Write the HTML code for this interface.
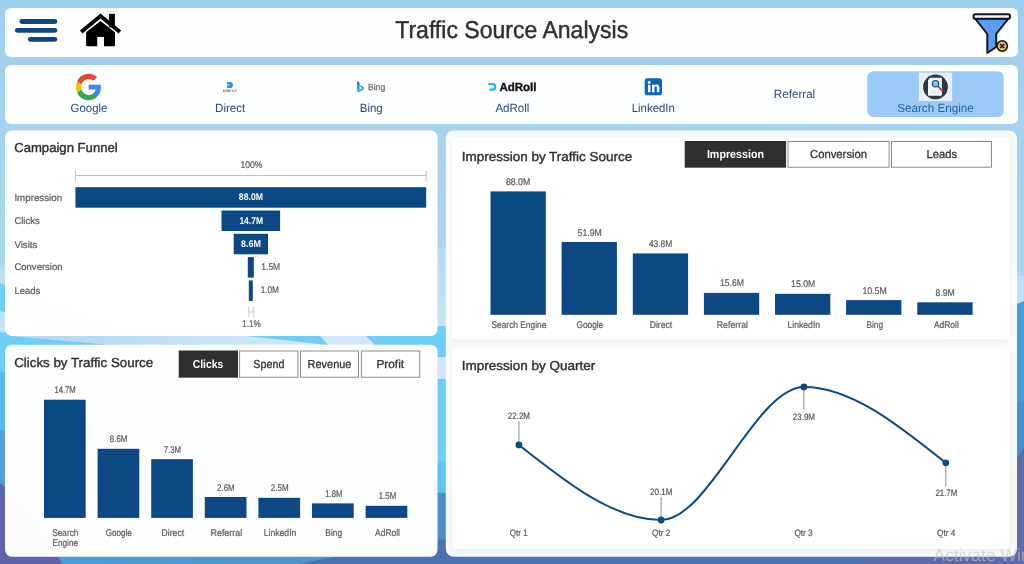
<!DOCTYPE html>
<html><head><meta charset="utf-8"><title>Traffic Source Analysis</title>
<style>
html,body{margin:0;padding:0;width:1024px;height:564px;overflow:hidden;background:#a3d2ee;}
svg{display:block;font-family:"Liberation Sans",sans-serif;text-rendering:geometricPrecision;}
</style></head><body>
<svg width="1024" height="564" viewBox="0 0 1024 564" style="will-change:transform">
<defs>
<linearGradient id="bg" x1="0" y1="0" x2="0" y2="1">
<stop offset="0" stop-color="#9ccfee"/><stop offset="0.2" stop-color="#a4d2ed"/><stop offset="0.45" stop-color="#aad5ee"/><stop offset="1" stop-color="#b5dcf2"/>
</linearGradient>
<linearGradient id="lt" x1="0" y1="0" x2="0" y2="1"><stop offset="0" stop-color="#b4dbf2"/><stop offset="0.25" stop-color="#c6e3f5"/><stop offset="1" stop-color="#c6e3f5"/></linearGradient>
<linearGradient id="mid" x1="0" y1="0" x2="1" y2="0"><stop offset="0" stop-color="#58b8ec"/><stop offset="0.45" stop-color="#5fc4f2"/><stop offset="1" stop-color="#4a9edb"/></linearGradient>
<linearGradient id="blu" x1="0" y1="0" x2="1" y2="0"><stop offset="0" stop-color="#4d9fd8"/><stop offset="0.45" stop-color="#4d8ec8"/><stop offset="1" stop-color="#4a8fd0"/></linearGradient>
<linearGradient id="gapg" x1="0" y1="0" x2="1" y2="0"><stop offset="0.2" stop-color="#b9dbf1"/><stop offset="0.7" stop-color="#d3e8f6"/><stop offset="1" stop-color="#d3e8f6"/></linearGradient>
<clipPath id="gapL"><rect x="0" y="335" width="446" height="11"/></clipPath>
<clipPath id="gapC"><rect x="436" y="340" width="11" height="50"/></clipPath>
<linearGradient id="bing" x1="0" y1="0" x2="0.4" y2="1"><stop offset="0" stop-color="#2468b4"/><stop offset="1" stop-color="#36bfe0"/></linearGradient>
<filter id="sh" x="-5%" y="-5%" width="110%" height="115%"><feGaussianBlur stdDeviation="2.2"/></filter>
</defs>
<rect width="1024" height="564" fill="url(#bg)"/>

<path d="M0,268 C150,262 300,252 446,248 C650,244 850,262 1024,276 L1024,564 L0,564Z" fill="url(#lt)"/>
<path d="M0,332 C40,336 70,342 110,346 C200,362 300,356 366,336 C400,328 430,326 446,326 C600,318 800,310 1024,303 L1024,564 L0,564Z" fill="#6dcff6"/>
<path d="M0,371 C150,420 300,452 446,462 C650,470 850,380 1024,301 L1024,564 L0,564Z" fill="url(#mid)"/>
<path d="M0,430 C150,470 300,490 446,493 C650,495 900,450 1024,400 L1024,564 L0,564Z" fill="url(#blu)"/>
<path d="M0,483 C25,500 50,540 62,564 L0,564Z" fill="#5e64a8"/>
<path d="M300,564 C350,553 400,545 446,539 C650,520 850,540 1024,520 L1024,564Z" fill="#4a72b0"/>
<path d="M860,564 C930,545 990,500 1024,448 L1024,564Z" fill="#5f6ba8"/>
<path d="M0,283 L0,311 C50,326 90,336 130,346 L210,352 C130,338 60,308 0,283Z" fill="#6dcff6"/>
<g clip-path="url(#gapL)"><rect x="0" y="330" width="450" height="20" fill="url(#gapg)"/><polygon points="0,330 3,330 10,336 110,345 125,347 0,347" fill="#6dcff6"/><polygon points="247,336 238,335 319.5,335 328,345" fill="#6dcff6"/><polygon points="365,335 450,335 450,347 377,347" fill="#6dcff6"/></g>
<g clip-path="url(#gapC)"><rect x="436" y="357" width="12" height="22" fill="#d0e6f5"/></g>
<rect x="5" y="8" width="1013" height="49" rx="6" fill="#fff" fill-opacity="0.97"/>
<rect x="5" y="65" width="1013" height="59" rx="6" fill="#fff" fill-opacity="0.97"/>
<rect x="5" y="130.5" width="432.5" height="205.5" rx="7" fill="#fff" fill-opacity="0.985"/>
<rect x="5" y="344.7" width="432.5" height="212" rx="7" fill="#fff" fill-opacity="0.985"/>
<rect x="445.8" y="130.5" width="571.2" height="426.3" rx="8" fill="#fbfbfa" fill-opacity="0.98"/>
<rect x="452" y="138.5" width="557.8" height="202.5" rx="5" fill="#000" fill-opacity="0.05" filter="url(#sh)"/>
<rect x="452" y="137" width="557.8" height="202.5" rx="4" fill="#fff"/>
<rect x="452" y="350.1" width="557.8" height="200.4" rx="5" fill="#000" fill-opacity="0.05" filter="url(#sh)"/>
<rect x="452" y="348.6" width="557.8" height="200.4" rx="4" fill="#fff"/>
<line x1="21.8" y1="21.5" x2="54.9" y2="21.5" stroke="#10467f" stroke-width="4.8" stroke-linecap="round"/>
<line x1="17.3" y1="30.35" x2="54.9" y2="30.35" stroke="#10467f" stroke-width="4.8" stroke-linecap="round"/>
<line x1="30.3" y1="39.35" x2="54.9" y2="39.35" stroke="#10467f" stroke-width="4.8" stroke-linecap="round"/>
<g fill="#000"><polyline points="81.2,31.9 100.5,16.1 119.9,31.9" fill="none" stroke="#000" stroke-width="3.9" stroke-linecap="butt" stroke-linejoin="miter"/><rect x="109.1" y="13.9" width="5.8" height="13.5"/><path d="M86.1,32.3 L100.5,21 L115,32.3 L115,45.3 a1,1 0 0 1 -1,1 L104,46.3 L104,36.9 L97.2,36.9 L97.2,46.3 L87.1,46.3 a1,1 0 0 1 -1,-1Z"/></g>
<text x="395.2" y="37.5" font-size="24.4" textLength="233.0" lengthAdjust="spacingAndGlyphs" fill="#2f2f2f" font-weight="normal" stroke="#2f2f2f" stroke-width="0.4">Traffic Source Analysis</text>
<g stroke="#15151f" stroke-width="2" stroke-linejoin="round"><path d="M975,18.5 L987.3,34 L987.3,53 L996.2,47 L996.2,34 L1008.5,18.5Z" fill="#5b9df0"/><rect x="973.6" y="14.2" width="36.3" height="4.6" rx="1.5" fill="#f4f8ff"/><circle cx="1002.2" cy="46" r="5.2" fill="#f0b95c" stroke-width="1.6"/><path d="M1000.2,44 L1004.2,48 M1004.2,44 L1000.2,48" stroke-width="1.5" fill="none"/></g>
<rect x="867.3" y="71.2" width="136.4" height="45.7" rx="6" fill="#9ccaf8"/>
<g transform="translate(75.35,73.1) scale(0.554,0.578)">
<path fill="#4285F4" d="M46.1 24.5c0-1.6-.1-3.100-.4-4.500H24v8.500h12.400c-.5 2.900-2.100 5.300-4.500 6.900v5.700h7.300c4.300-3.900 6.900-9.800 6.900-16.600z"/>
<path fill="#34A853" d="M24 47c6.200 0 11.400-2 15.200-5.500l-7.300-5.700c-2.100 1.400-4.700 2.200-7.900 2.200-6 0-11.100-4.100-12.900-9.500H3.500v5.900C7.300 41.900 15.100 47 24 47z"/>
<path fill="#FBBC05" d="M11.100 28.500c-.5-1.400-.7-2.900-.7-4.500s.3-3.100.7-4.500v-5.900H3.500C1.900 16.700 1 20.200 1 24s.9 7.300 2.500 10.400l7.600-5.900z"/>
<path fill="#EA4335" d="M24 10c3.400 0 6.400 1.200 8.800 3.400l6.500-6.500C35.400 3.200 30.200 1 24 1 15.100 1 7.300 6.100 3.500 13.600l7.600 5.900C12.900 14.100 18 10 24 10z"/>
</g>
<text x="70.5" y="112.3" font-size="11.9" textLength="37.0" lengthAdjust="spacingAndGlyphs" fill="#274b79" font-weight="normal" >Google</text>
<path d="M227.1,81.9 h2.7 a3.1,3.1 0 0 1 0,6.2 h-2.7z" fill="#2f8ccc"/><path d="M227.1,84 l3.2,1 -3.2,1z M228.3,83.6 a1.5,1.4 0 1 1 0,2.8 l1.6,-1.4z" fill="#8fe9ff"/>
<text x="222.7" y="91.7" font-size="3.4" textLength="14.4" lengthAdjust="spacingAndGlyphs" fill="#555" font-weight="bold" >DIRECT</text>
<text x="215.0" y="112.3" font-size="11.9" textLength="30.3" lengthAdjust="spacingAndGlyphs" fill="#274b79" font-weight="normal" >Direct</text>
<path d="M357.1,81.5 q1.6,0.2 2.5,1.1 v6.8 l2.6,-1.5 -1.6,-0.8 -0.8,-1.9 3.6,1.6 q1.6,1 0.2,2.6 l-4.2,2.5 q-1.2,0.6 -2.3,-0.7z" fill="url(#bing)"/>
<text x="367.9" y="90.0" font-size="8.8" textLength="17.3" lengthAdjust="spacingAndGlyphs" fill="#707070" font-weight="normal" stroke="#707070" stroke-width="0.3">Bing</text>
<text x="359.8" y="112.3" font-size="11.9" textLength="22.8" lengthAdjust="spacingAndGlyphs" fill="#274b79" font-weight="normal" >Bing</text>
<path d="M488.4,84 H492.5 A2.85,2.85 0 0 1 492.5,89.7 H489.4" fill="none" stroke="#1cb8ea" stroke-width="2.2"/>
<text x="499.4" y="90.7" font-size="11.6" textLength="37.1" lengthAdjust="spacingAndGlyphs" fill="#111" font-weight="bold" stroke="#111" stroke-width="0.35">AdRoll</text>
<text x="495.4" y="112.3" font-size="11.9" textLength="34.0" lengthAdjust="spacingAndGlyphs" fill="#274b79" font-weight="normal" >AdRoll</text>
<rect x="644.7" y="78.3" width="17.3" height="17" rx="2.6" fill="#0a66c2"/>
<g fill="#fff"><rect x="648" y="84.8" width="2.4" height="7.4"/><circle cx="649.2" cy="82.5" r="1.45"/><path d="M652,84.8 h2.3 v1 c0.5,-0.8 1.4,-1.2 2.4,-1.2 c2,0 2.6,1.3 2.6,3.1 v4.5 h-2.4 v-4 c0,-0.9 -0.2,-1.6 -1.1,-1.6 c-1,0 -1.4,0.7 -1.4,1.6 v4 h-2.4z"/></g>
<text x="631.7" y="112.3" font-size="11.9" textLength="43.2" lengthAdjust="spacingAndGlyphs" fill="#274b79" font-weight="normal" >LinkedIn</text>
<text x="773.8" y="98.3" font-size="11.9" textLength="41.4" lengthAdjust="spacingAndGlyphs" fill="#274b79" font-weight="normal" >Referral</text>
<rect x="918.9" y="72.7" width="33.2" height="28.3" fill="#e9f0f8"/>
<circle cx="935.5" cy="86.9" r="12.4" fill="#2a3848"/>
<path d="M930.2,77.8 h10.7 a1,1 0 0 1 1,1 v16 a1,1 0 0 1 -1,1 h-11.9 a1,1 0 0 1 -1,-1 v-14.8z" fill="#f3f6fa"/>
<path d="M930.5,90.2 h6 M930.5,92.4 h8" stroke="#d5dbe3" stroke-width="0.8"/>
<circle cx="935.5" cy="83.7" r="3.2" fill="#6ec8f5" stroke="#2b4d66" stroke-width="1.2"/>
<line x1="937.9" y1="86.2" x2="939.6" y2="88" stroke="#2b4d66" stroke-width="1.3"/>
<line x1="939.8" y1="88.2" x2="942.2" y2="90.6" stroke="#e0453e" stroke-width="2" stroke-linecap="round"/>
<text x="897.2" y="112.3" font-size="11.9" textLength="76.6" lengthAdjust="spacingAndGlyphs" fill="#2560a2" font-weight="normal" >Search Engine</text>
<text x="14.2" y="152.1" font-size="13" textLength="103.5" lengthAdjust="spacingAndGlyphs" fill="#2f2f2f" font-weight="normal" stroke="#2f2f2f" stroke-width="0.4">Campaign Funnel</text>
<path d="M75.4,170.4 V181 M75.4,175.5 H426.2 M426.2,170.4 V181" stroke="#c0c0c0" stroke-width="1" fill="none"/>
<text x="240.4" y="168.3" font-size="9.7" textLength="22.0" lengthAdjust="spacingAndGlyphs" fill="#5c5c5c" font-weight="normal" stroke="#5c5c5c" stroke-width="0.22">100%</text>
<rect x="75.4" y="187.2" width="350.8" height="20.5" fill="#0c4884"/>
<text x="14.4" y="201.1" font-size="9.7" textLength="47.7" lengthAdjust="spacingAndGlyphs" fill="#5c5c5c" font-weight="normal" stroke="#5c5c5c" stroke-width="0.22">Impression</text>
<rect x="221.5" y="210.5" width="58.6" height="20.5" fill="#0c4884"/>
<text x="14.4" y="224.1" font-size="9.7" textLength="25.3" lengthAdjust="spacingAndGlyphs" fill="#5c5c5c" font-weight="normal" stroke="#5c5c5c" stroke-width="0.22">Clicks</text>
<rect x="233.7" y="233.8" width="34.3" height="20.5" fill="#0c4884"/>
<text x="14.4" y="247.6" font-size="9.7" textLength="23.0" lengthAdjust="spacingAndGlyphs" fill="#5c5c5c" font-weight="normal" stroke="#5c5c5c" stroke-width="0.22">Visits</text>
<rect x="247.8" y="257.1" width="6.0" height="20.5" fill="#0c4884"/>
<text x="14.4" y="270.3" font-size="9.7" textLength="48.2" lengthAdjust="spacingAndGlyphs" fill="#5c5c5c" font-weight="normal" stroke="#5c5c5c" stroke-width="0.22">Conversion</text>
<rect x="248.8" y="280.4" width="4.0" height="20.5" fill="#0c4884"/>
<text x="14.4" y="293.8" font-size="9.7" textLength="25.8" lengthAdjust="spacingAndGlyphs" fill="#5c5c5c" font-weight="normal" stroke="#5c5c5c" stroke-width="0.22">Leads</text>
<text x="238.8" y="199.9" font-size="9.7" textLength="24.2" lengthAdjust="spacingAndGlyphs" fill="#fff" font-weight="bold" >88.0M</text>
<text x="239.4" y="223.5" font-size="9.7" textLength="23.6" lengthAdjust="spacingAndGlyphs" fill="#fff" font-weight="bold" >14.7M</text>
<text x="241.1" y="246.8" font-size="9.7" textLength="19.9" lengthAdjust="spacingAndGlyphs" fill="#fff" font-weight="bold" >8.6M</text>
<text x="261.3" y="269.8" font-size="9.7" textLength="18.9" lengthAdjust="spacingAndGlyphs" fill="#5c5c5c" font-weight="normal" stroke="#5c5c5c" stroke-width="0.22">1.5M</text>
<text x="260.7" y="293.0" font-size="9.7" textLength="18.2" lengthAdjust="spacingAndGlyphs" fill="#5c5c5c" font-weight="normal" stroke="#5c5c5c" stroke-width="0.22">1.0M</text>
<path d="M248.9,306.7 V317.5 M248.9,312 H253.3 M253.3,306.7 V317.5" stroke="#c8c8c8" stroke-width="1" fill="none"/>
<text x="242.1" y="327.0" font-size="9.7" textLength="18.6" lengthAdjust="spacingAndGlyphs" fill="#5c5c5c" font-weight="normal" stroke="#5c5c5c" stroke-width="0.22">1.1%</text>
<text x="14.2" y="366.6" font-size="13" textLength="139.0" lengthAdjust="spacingAndGlyphs" fill="#2f2f2f" font-weight="normal" stroke="#2f2f2f" stroke-width="0.4">Clicks by Traffic Source</text>
<rect x="178.7" y="350.5" width="59.3" height="27.2" fill="#2f2f2f"/>
<text x="192.7" y="367.9" font-size="11.6" textLength="30.6" lengthAdjust="spacingAndGlyphs" fill="#fff" font-weight="bold" >Clicks</text>
<rect x="239.6" y="351" width="58.3" height="26.2" fill="#fff" stroke="#8a8a8a" stroke-width="1"/>
<text x="253.3" y="367.9" font-size="11.6" textLength="31.1" lengthAdjust="spacingAndGlyphs" fill="#333" font-weight="normal" stroke="#333" stroke-width="0.3">Spend</text>
<rect x="300.5" y="351" width="58.0" height="26.2" fill="#fff" stroke="#8a8a8a" stroke-width="1"/>
<text x="307.6" y="367.9" font-size="11.6" textLength="43.8" lengthAdjust="spacingAndGlyphs" fill="#333" font-weight="normal" stroke="#333" stroke-width="0.3">Revenue</text>
<rect x="361.4" y="351" width="58.3" height="26.2" fill="#fff" stroke="#8a8a8a" stroke-width="1"/>
<text x="376.4" y="367.9" font-size="11.6" textLength="27.7" lengthAdjust="spacingAndGlyphs" fill="#333" font-weight="normal" stroke="#333" stroke-width="0.3">Profit</text>
<rect x="44.0" y="399.7" width="41.7" height="118.2" fill="#0c4884"/>
<text x="54.4" y="393.2" font-size="9.7" textLength="21.4" lengthAdjust="spacingAndGlyphs" fill="#5c5c5c" font-weight="normal" stroke="#5c5c5c" stroke-width="0.22">14.7M</text>
<rect x="97.6" y="448.8" width="41.7" height="69.1" fill="#0c4884"/>
<text x="109.8" y="442.3" font-size="9.7" textLength="17.6" lengthAdjust="spacingAndGlyphs" fill="#5c5c5c" font-weight="normal" stroke="#5c5c5c" stroke-width="0.22">8.6M</text>
<text x="105.7" y="535.6" font-size="9.7" textLength="26.2" lengthAdjust="spacingAndGlyphs" fill="#5c5c5c" font-weight="normal" stroke="#5c5c5c" stroke-width="0.22">Google</text>
<rect x="151.2" y="459.2" width="41.7" height="58.7" fill="#0c4884"/>
<text x="163.7" y="452.7" font-size="9.7" textLength="17.4" lengthAdjust="spacingAndGlyphs" fill="#5c5c5c" font-weight="normal" stroke="#5c5c5c" stroke-width="0.22">7.3M</text>
<text x="161.6" y="535.6" font-size="9.7" textLength="22.5" lengthAdjust="spacingAndGlyphs" fill="#5c5c5c" font-weight="normal" stroke="#5c5c5c" stroke-width="0.22">Direct</text>
<rect x="204.8" y="497.0" width="41.7" height="20.9" fill="#0c4884"/>
<text x="217.1" y="490.5" font-size="9.7" textLength="17.6" lengthAdjust="spacingAndGlyphs" fill="#5c5c5c" font-weight="normal" stroke="#5c5c5c" stroke-width="0.22">2.6M</text>
<text x="210.5" y="535.6" font-size="9.7" textLength="31.7" lengthAdjust="spacingAndGlyphs" fill="#5c5c5c" font-weight="normal" stroke="#5c5c5c" stroke-width="0.22">Referral</text>
<rect x="258.4" y="497.8" width="41.7" height="20.1" fill="#0c4884"/>
<text x="270.8" y="491.3" font-size="9.7" textLength="17.8" lengthAdjust="spacingAndGlyphs" fill="#5c5c5c" font-weight="normal" stroke="#5c5c5c" stroke-width="0.22">2.5M</text>
<text x="263.7" y="535.6" font-size="9.7" textLength="32.7" lengthAdjust="spacingAndGlyphs" fill="#5c5c5c" font-weight="normal" stroke="#5c5c5c" stroke-width="0.22">LinkedIn</text>
<rect x="312.0" y="503.4" width="41.7" height="14.5" fill="#0c4884"/>
<text x="325.3" y="496.9" font-size="9.7" textLength="17.0" lengthAdjust="spacingAndGlyphs" fill="#5c5c5c" font-weight="normal" stroke="#5c5c5c" stroke-width="0.22">1.8M</text>
<text x="325.3" y="535.6" font-size="9.7" textLength="17.0" lengthAdjust="spacingAndGlyphs" fill="#5c5c5c" font-weight="normal" stroke="#5c5c5c" stroke-width="0.22">Bing</text>
<rect x="365.6" y="505.8" width="41.7" height="12.1" fill="#0c4884"/>
<text x="378.7" y="499.3" font-size="9.7" textLength="17.6" lengthAdjust="spacingAndGlyphs" fill="#5c5c5c" font-weight="normal" stroke="#5c5c5c" stroke-width="0.22">1.5M</text>
<text x="375.1" y="535.6" font-size="9.7" textLength="24.9" lengthAdjust="spacingAndGlyphs" fill="#5c5c5c" font-weight="normal" stroke="#5c5c5c" stroke-width="0.22">AdRoll</text>
<text x="52.2" y="535.6" font-size="9.7" textLength="26.2" lengthAdjust="spacingAndGlyphs" fill="#5c5c5c" font-weight="normal" stroke="#5c5c5c" stroke-width="0.22">Search</text>
<text x="52.6" y="545.8" font-size="9.7" textLength="25.4" lengthAdjust="spacingAndGlyphs" fill="#5c5c5c" font-weight="normal" stroke="#5c5c5c" stroke-width="0.22">Engine</text>
<text x="461.8" y="161.0" font-size="13" textLength="170.4" lengthAdjust="spacingAndGlyphs" fill="#2f2f2f" font-weight="normal" stroke="#2f2f2f" stroke-width="0.4">Impression by Traffic Source</text>
<rect x="684.7" y="141" width="101.4" height="26.7" fill="#2f2f2f"/>
<text x="706.9" y="158.2" font-size="11.6" textLength="57.1" lengthAdjust="spacingAndGlyphs" fill="#fff" font-weight="bold" >Impression</text>
<rect x="788.0" y="141.5" width="101.1" height="25.7" fill="#fff" stroke="#8a8a8a" stroke-width="1"/>
<text x="810.0" y="158.2" font-size="11.6" textLength="57.1" lengthAdjust="spacingAndGlyphs" fill="#333" font-weight="normal" stroke="#333" stroke-width="0.3">Conversion</text>
<rect x="891.5" y="141.5" width="100.0" height="25.7" fill="#fff" stroke="#8a8a8a" stroke-width="1"/>
<text x="926.6" y="158.2" font-size="11.6" textLength="30.5" lengthAdjust="spacingAndGlyphs" fill="#333" font-weight="normal" stroke="#333" stroke-width="0.3">Leads</text>
<rect x="490.5" y="191.4" width="55.3" height="123.4" fill="#0c4884"/>
<text x="505.9" y="184.9" font-size="9.7" textLength="24.4" lengthAdjust="spacingAndGlyphs" fill="#5c5c5c" font-weight="normal" stroke="#5c5c5c" stroke-width="0.22">88.0M</text>
<text x="491.5" y="327.5" font-size="9.7" textLength="54.8" lengthAdjust="spacingAndGlyphs" fill="#5c5c5c" font-weight="normal" stroke="#5c5c5c" stroke-width="0.22">Search Engine</text>
<rect x="561.6" y="242.0" width="55.3" height="72.8" fill="#0c4884"/>
<text x="577.6" y="235.5" font-size="9.7" textLength="24.3" lengthAdjust="spacingAndGlyphs" fill="#5c5c5c" font-weight="normal" stroke="#5c5c5c" stroke-width="0.22">51.9M</text>
<text x="576.5" y="327.5" font-size="9.7" textLength="26.7" lengthAdjust="spacingAndGlyphs" fill="#5c5c5c" font-weight="normal" stroke="#5c5c5c" stroke-width="0.22">Google</text>
<rect x="632.8" y="253.4" width="55.3" height="61.4" fill="#0c4884"/>
<text x="648.9" y="246.9" font-size="9.7" textLength="23.4" lengthAdjust="spacingAndGlyphs" fill="#5c5c5c" font-weight="normal" stroke="#5c5c5c" stroke-width="0.22">43.8M</text>
<text x="649.7" y="327.5" font-size="9.7" textLength="22.6" lengthAdjust="spacingAndGlyphs" fill="#5c5c5c" font-weight="normal" stroke="#5c5c5c" stroke-width="0.22">Direct</text>
<rect x="703.9" y="292.9" width="55.3" height="21.9" fill="#0c4884"/>
<text x="720.0" y="286.4" font-size="9.7" textLength="24.1" lengthAdjust="spacingAndGlyphs" fill="#5c5c5c" font-weight="normal" stroke="#5c5c5c" stroke-width="0.22">15.6M</text>
<text x="716.7" y="327.5" font-size="9.7" textLength="31.3" lengthAdjust="spacingAndGlyphs" fill="#5c5c5c" font-weight="normal" stroke="#5c5c5c" stroke-width="0.22">Referral</text>
<rect x="775.0" y="293.8" width="55.3" height="21.0" fill="#0c4884"/>
<text x="791.1" y="287.3" font-size="9.7" textLength="24.1" lengthAdjust="spacingAndGlyphs" fill="#5c5c5c" font-weight="normal" stroke="#5c5c5c" stroke-width="0.22">15.0M</text>
<text x="787.5" y="327.5" font-size="9.7" textLength="32.6" lengthAdjust="spacingAndGlyphs" fill="#5c5c5c" font-weight="normal" stroke="#5c5c5c" stroke-width="0.22">LinkedIn</text>
<rect x="846.1" y="300.1" width="55.3" height="14.7" fill="#0c4884"/>
<text x="862.5" y="293.6" font-size="9.7" textLength="24.2" lengthAdjust="spacingAndGlyphs" fill="#5c5c5c" font-weight="normal" stroke="#5c5c5c" stroke-width="0.22">10.5M</text>
<text x="866.5" y="327.5" font-size="9.7" textLength="16.6" lengthAdjust="spacingAndGlyphs" fill="#5c5c5c" font-weight="normal" stroke="#5c5c5c" stroke-width="0.22">Bing</text>
<rect x="917.3" y="302.3" width="55.3" height="12.5" fill="#0c4884"/>
<text x="935.6" y="295.8" font-size="9.7" textLength="19.2" lengthAdjust="spacingAndGlyphs" fill="#5c5c5c" font-weight="normal" stroke="#5c5c5c" stroke-width="0.22">8.9M</text>
<text x="934.0" y="327.5" font-size="9.7" textLength="24.8" lengthAdjust="spacingAndGlyphs" fill="#5c5c5c" font-weight="normal" stroke="#5c5c5c" stroke-width="0.22">AdRoll</text>
<text x="461.7" y="370.2" font-size="13" textLength="133.5" lengthAdjust="spacingAndGlyphs" fill="#2f2f2f" font-weight="normal" stroke="#2f2f2f" stroke-width="0.4">Impression by Quarter</text>
<path d="M518.9,444.9 C566.3,482.4 613.7,520.0 661.1,520.0 C708.7,520.0 756.3,386.9 803.9,386.9 C851.2,386.9 898.5,424.9 945.8,462.8" fill="none" stroke="#0f4a80" stroke-width="2"/>
<line x1="518.9" y1="421.4" x2="518.9" y2="444.9" stroke="#8a8a8a" stroke-width="1"/>
<circle cx="518.9" cy="444.9" r="3.4" fill="#0f4a80"/>
<line x1="661.1" y1="497" x2="661.1" y2="520" stroke="#8a8a8a" stroke-width="1"/>
<circle cx="661.1" cy="520.0" r="3.4" fill="#0f4a80"/>
<line x1="803.9" y1="386.9" x2="803.9" y2="409.5" stroke="#8a8a8a" stroke-width="1"/>
<circle cx="803.9" cy="386.9" r="3.4" fill="#0f4a80"/>
<line x1="945.8" y1="462.4" x2="945.8" y2="486.2" stroke="#8a8a8a" stroke-width="1"/>
<circle cx="945.8" cy="462.8" r="3.4" fill="#0f4a80"/>
<text x="507.8" y="419.0" font-size="9.3" textLength="22.2" lengthAdjust="spacingAndGlyphs" fill="#5c5c5c" font-weight="normal" stroke="#5c5c5c" stroke-width="0.22">22.2M</text>
<text x="650.0" y="494.9" font-size="9.3" textLength="22.6" lengthAdjust="spacingAndGlyphs" fill="#5c5c5c" font-weight="normal" stroke="#5c5c5c" stroke-width="0.22">20.1M</text>
<text x="792.8" y="419.8" font-size="9.3" textLength="22.2" lengthAdjust="spacingAndGlyphs" fill="#5c5c5c" font-weight="normal" stroke="#5c5c5c" stroke-width="0.22">23.9M</text>
<text x="935.4" y="495.5" font-size="9.3" textLength="21.9" lengthAdjust="spacingAndGlyphs" fill="#5c5c5c" font-weight="normal" stroke="#5c5c5c" stroke-width="0.22">21.7M</text>
<text x="509.8" y="535.9" font-size="9.3" textLength="17.8" lengthAdjust="spacingAndGlyphs" fill="#5c5c5c" font-weight="normal" stroke="#5c5c5c" stroke-width="0.22">Qtr 1</text>
<text x="652.0" y="535.9" font-size="9.3" textLength="18.3" lengthAdjust="spacingAndGlyphs" fill="#5c5c5c" font-weight="normal" stroke="#5c5c5c" stroke-width="0.22">Qtr 2</text>
<text x="794.4" y="535.9" font-size="9.3" textLength="18.3" lengthAdjust="spacingAndGlyphs" fill="#5c5c5c" font-weight="normal" stroke="#5c5c5c" stroke-width="0.22">Qtr 3</text>
<text x="937.0" y="535.9" font-size="9.3" textLength="18.3" lengthAdjust="spacingAndGlyphs" fill="#5c5c5c" font-weight="normal" stroke="#5c5c5c" stroke-width="0.22">Qtr 4</text>
<text x="933.5" y="560.9" font-size="17.5" fill="#c4c4c4" fill-opacity="0.6" textLength="97" lengthAdjust="spacingAndGlyphs">Activate Win</text>
</svg></body></html>
